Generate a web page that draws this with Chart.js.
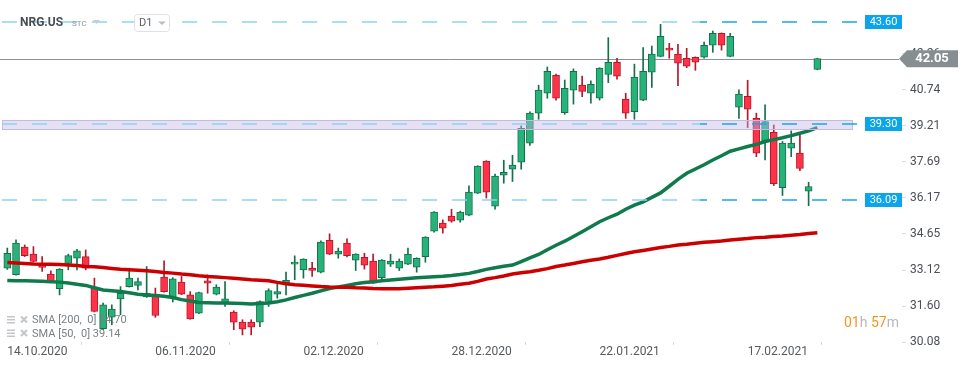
<!DOCTYPE html>
<html>
<head>
<meta charset="utf-8">
<script src="https://cdn.jsdelivr.net/npm/chart.js@4.4.1/dist/chart.umd.min.js"></script>
<style>
    html, body { margin: 0; padding: 0; background: #fff; }
</style>
</head>
<body>
<canvas id="stock-chart" width="970" height="367"></canvas>
<script>
// trading days shown on the chart
const dates = [
    '14.10.2020','15.10.2020','16.10.2020','19.10.2020','20.10.2020','21.10.2020','22.10.2020','23.10.2020','26.10.2020','27.10.2020','28.10.2020','29.10.2020','30.10.2020',
    '02.11.2020','03.11.2020','04.11.2020','05.11.2020','06.11.2020','09.11.2020','10.11.2020','11.11.2020','12.11.2020','13.11.2020','16.11.2020','17.11.2020','18.11.2020','19.11.2020','20.11.2020','23.11.2020','24.11.2020','25.11.2020','27.11.2020','30.11.2020',
    '01.12.2020','02.12.2020','03.12.2020','04.12.2020','07.12.2020','08.12.2020','09.12.2020','10.12.2020','11.12.2020','14.12.2020','15.12.2020','16.12.2020','17.12.2020','18.12.2020','21.12.2020','22.12.2020','23.12.2020','24.12.2020','28.12.2020','29.12.2020','30.12.2020','31.12.2020',
    '04.01.2021','05.01.2021','06.01.2021','07.01.2021','08.01.2021','11.01.2021','12.01.2021','13.01.2021','14.01.2021','15.01.2021','19.01.2021','20.01.2021','21.01.2021','22.01.2021','25.01.2021','26.01.2021','27.01.2021','28.01.2021','29.01.2021',
    '01.02.2021','02.02.2021','03.02.2021','04.02.2021','05.02.2021','08.02.2021','09.02.2021','10.02.2021','11.02.2021','12.02.2021','16.02.2021','17.02.2021','18.02.2021','19.02.2021','22.02.2021','23.02.2021','24.02.2021','25.02.2021','26.02.2021',
    '01.03.2021'
];

// daily candles
const opens = [
    33.20, 32.92, 34.09, 33.79, 33.34, 32.95, 32.33, 33.40, 33.62, 33.69,
    32.40, 30.64, 31.13, 31.90, 32.42, 32.47, 31.98, 32.07, 32.82, 31.96,
    32.61, 32.07, 31.30, 32.66, 32.10, 31.72, 31.34, 30.92, 30.92, 30.92,
    31.79, 32.10, 32.57, 33.37, 33.13, 33.20, 33.03, 34.38, 33.79, 34.26,
    33.54, 33.66, 33.50, 32.80, 33.37, 33.20, 33.37, 33.24, 33.69, 34.76,
    35.10, 35.40, 35.23, 35.44, 36.37, 37.72, 35.82, 37.13, 37.38, 37.68,
    38.48, 39.75, 40.59, 41.35, 39.77, 40.72, 40.93, 40.59, 40.38, 41.39,
    41.90, 40.34, 39.81, 40.30, 41.48, 42.15, 42.49, 42.24, 42.07, 42.11,
    42.11, 42.62, 43.12, 42.15, 40.00, 40.46, 39.53, 38.58, 38.94, 36.60,
    38.27, 38.06, 36.45, 41.60
];
const highs = [
    34.05, 34.40, 34.18, 34.11, 33.69, 33.09, 33.18, 33.79, 34.00, 33.97,
    32.78, 31.72, 31.65, 32.42, 33.20, 32.78, 33.27, 32.36, 33.51, 32.80,
    32.85, 32.21, 32.19, 32.92, 32.50, 32.63, 31.40, 31.02, 31.02, 31.82,
    32.33, 32.57, 33.03, 33.72, 33.60, 33.45, 34.35, 34.65, 34.05, 34.44,
    33.81, 33.83, 33.79, 33.56, 33.79, 33.59, 34.05, 33.64, 34.53, 35.59,
    35.24, 35.69, 35.61, 36.68, 37.53, 37.74, 37.17, 37.76, 37.97, 39.21,
    39.81, 40.93, 41.70, 41.40, 41.15, 41.62, 41.32, 41.11, 41.67, 42.94,
    42.07, 40.59, 41.82, 42.52, 42.58, 43.50, 42.70, 42.66, 42.49, 42.13,
    42.75, 43.22, 43.14, 43.12, 40.73, 41.14, 39.75, 40.10, 39.25, 38.55,
    39.00, 38.83, 36.83, 42.07
];
const lows = [
    33.15, 32.90, 33.69, 33.46, 33.06, 32.61, 32.07, 33.13, 33.13, 33.13,
    31.35, 30.60, 30.81, 31.23, 32.40, 32.28, 31.96, 31.12, 32.19, 31.77,
    32.08, 31.04, 31.28, 32.14, 32.07, 31.58, 30.60, 30.38, 30.38, 30.73,
    31.58, 31.93, 32.07, 32.71, 32.78, 32.85, 33.00, 33.77, 33.62, 33.67,
    33.10, 33.16, 32.55, 32.71, 33.27, 33.10, 33.35, 33.03, 33.45, 34.72,
    34.68, 35.14, 35.14, 35.42, 36.35, 36.16, 35.69, 36.79, 36.86, 37.38,
    38.39, 39.49, 40.38, 40.30, 39.70, 40.13, 40.45, 40.17, 40.30, 41.04,
    41.18, 39.53, 39.49, 40.28, 40.84, 42.13, 42.07, 40.91, 41.67, 41.56,
    42.07, 42.32, 42.41, 42.13, 39.53, 39.14, 37.91, 37.77, 36.69, 36.27,
    37.91, 37.32, 35.84, 41.58
];
const closes = [
    33.83, 34.26, 33.73, 33.48, 33.23, 32.63, 33.16, 33.73, 33.93, 33.20,
    31.37, 31.65, 31.47, 32.14, 32.78, 32.63, 32.14, 31.20, 32.21, 32.75,
    32.10, 31.06, 32.17, 32.57, 32.40, 31.90, 30.92, 30.62, 30.71, 31.79,
    32.25, 32.21, 32.69, 33.45, 33.58, 33.10, 34.30, 33.79, 33.92, 33.73,
    33.79, 33.33, 32.57, 33.54, 33.50, 33.50, 33.79, 33.62, 34.51, 35.57,
    34.89, 35.19, 35.57, 36.41, 37.51, 36.41, 37.09, 37.25, 37.55, 39.11,
    39.75, 40.72, 41.52, 40.38, 40.80, 41.52, 40.67, 40.97, 41.65, 41.90,
    41.31, 39.75, 41.27, 41.52, 42.24, 43.00, 42.41, 41.86, 41.73, 41.90,
    42.62, 43.12, 42.62, 43.00, 40.55, 39.92, 38.06, 39.39, 36.77, 38.48,
    38.48, 37.41, 36.65, 42.05
];

// moving averages
const sma200 = [
    33.44, 33.42, 33.40, 33.38, 33.37, 33.36, 33.35, 33.33, 33.31, 33.27,
    33.26, 33.23, 33.19, 33.15, 33.13, 33.11, 33.09, 33.06, 33.02, 32.99,
    32.95, 32.92, 32.88, 32.85, 32.83, 32.80, 32.77, 32.74, 32.71, 32.69,
    32.67, 32.60, 32.54, 32.50, 32.48, 32.45, 32.42, 32.40, 32.39, 32.39,
    32.37, 32.36, 32.34, 32.33, 32.33, 32.33, 32.35, 32.37, 32.39, 32.41,
    32.44, 32.47, 32.52, 32.56, 32.64, 32.74, 32.80, 32.87, 32.95, 33.01,
    33.05, 33.11, 33.18, 33.27, 33.33, 33.40, 33.47, 33.53, 33.59, 33.66,
    33.74, 33.82, 33.89, 33.95, 34.01, 34.07, 34.12, 34.18, 34.21, 34.25,
    34.29, 34.32, 34.35, 34.39, 34.42, 34.45, 34.49, 34.51, 34.54, 34.56,
    34.59, 34.62, 34.66, 34.70
];
const sma50 = [
    32.68, 32.67, 32.67, 32.66, 32.65, 32.63, 32.61, 32.57, 32.52, 32.47,
    32.37, 32.28, 32.25, 32.21, 32.16, 32.10, 32.07, 32.04, 32.01, 31.96,
    31.87, 31.81, 31.75, 31.74, 31.73, 31.73, 31.72, 31.71, 31.69, 31.71,
    31.73, 31.78, 31.86, 31.96, 32.05, 32.14, 32.24, 32.34, 32.40, 32.47,
    32.54, 32.59, 32.63, 32.67, 32.70, 32.73, 32.76, 32.79, 32.82, 32.84,
    32.86, 32.89, 32.93, 32.98, 33.06, 33.15, 33.22, 33.28, 33.33, 33.48,
    33.63, 33.78, 33.98, 34.17, 34.34, 34.54, 34.74, 34.95, 35.16, 35.33,
    35.48, 35.69, 35.86, 36.00, 36.19, 36.38, 36.66, 36.95, 37.21, 37.39,
    37.57, 37.77, 37.95, 38.14, 38.24, 38.34, 38.43, 38.55, 38.63, 38.71,
    38.80, 38.90, 39.00, 39.14
];

// axis ticks
const x_tick_index = [0, 17, 34, 51, 68, 85];
const y_ticks = [30.08, 31.60, 33.12, 34.65, 36.17, 37.69, 39.21, 40.74, 42.26];

// price levels and zone
const levels = [43.60, 39.30, 36.09];
const zone = [39.07, 39.46];
const last_price = 42.05;

const index = dates.map((d, i) => i);
const up = i => closes[i] >= opens[i];

Chart.defaults.font.family = 'Roboto, "Open Sans", sans-serif';

// plot area is 902px wide, one bar every 8.71px, first bar at 7.3px
const x_min = -7.3 / 8.71;
const x_max = x_min + 902 / 8.71;

// drawing of the levels, price label, header and legend text
const overlays = {
    id: 'overlays',
    beforeDatasetsDraw(chart) {
        const ctx = chart.ctx;
        const y = chart.scales.y;
        // last price line
        const py = Math.round(y.getPixelForValue(last_price)) + 0.5;
        ctx.save();
        ctx.strokeStyle = '#8a9296';
        ctx.lineWidth = 1;
        ctx.beginPath();
        ctx.moveTo(0, py);
        ctx.lineTo(899, py);
        ctx.stroke();
        ctx.restore();
    },
    afterDatasetsDraw(chart) {
        const ctx = chart.ctx;
        const y = chart.scales.y;
        ctx.save();
        // purple zone
        const top = Math.round(y.getPixelForValue(zone[1]));
        const bottom = Math.round(y.getPixelForValue(zone[0]));
        ctx.fillStyle = 'rgba(196, 182, 232, 0.42)';
        ctx.fillRect(2, top, 850, bottom - top);
        ctx.strokeStyle = '#c6b9e4';
        ctx.lineWidth = 1;
        ctx.strokeRect(2.5, top + 0.5, 850, bottom - top);
        // dashed levels, lighter on the left part
        for (let v of levels) {
            const ly = Math.round(y.getPixelForValue(v));
            ctx.lineWidth = 1.5;
            ctx.setLineDash([15, 15]);
            const parts = [[0, 700, '#8fd2f4'], [700, 858, '#1aa6ea']];
            for (let p of parts) {
                ctx.save();
                ctx.beginPath();
                ctx.rect(p[0], ly - 3, p[1] - p[0], 6);
                ctx.clip();
                ctx.strokeStyle = p[2];
                ctx.beginPath();
                ctx.moveTo(2, ly);
                ctx.lineTo(858, ly);
                ctx.stroke();
                ctx.restore();
            }
            ctx.setLineDash([]);
            // level label box
            ctx.fillStyle = '#0aa5ea';
            ctx.fillRect(865, ly - 7, 37, 14);
            ctx.fillStyle = '#ffffff';
            ctx.font = '11px Roboto';
            ctx.textAlign = 'center';
            ctx.textBaseline = 'middle';
            ctx.fillText(v.toFixed(2), 883.5, ly + 0.5);
        }
        ctx.restore();
    },
    afterDraw(chart) {
        const ctx = chart.ctx;
        const y = chart.scales.y;
        ctx.save();
        // last price pointer
        const py = y.getPixelForValue(last_price);
        ctx.fillStyle = '#868e92';
        ctx.beginPath();
        ctx.moveTo(899, py);
        ctx.lineTo(907, py - 8.5);
        ctx.lineTo(958, py - 8.5);
        ctx.lineTo(958, py + 8.5);
        ctx.lineTo(907, py + 8.5);
        ctx.closePath();
        ctx.fill();
        ctx.fillStyle = '#ffffff';
        ctx.font = 'bold 13px Roboto';
        ctx.textAlign = 'center';
        ctx.textBaseline = 'middle';
        ctx.fillText(last_price.toFixed(2), 932, py + 0.5);

        // header
        ctx.textAlign = 'left';
        ctx.fillStyle = '#474d52';
        ctx.font = 'bold 12px Roboto';
        ctx.fillText('NRG.US', 20, 23);
        ctx.fillStyle = '#8d99a3';
        ctx.font = '8px Roboto';
        ctx.fillText('STC', 72, 24);
        ctx.fillStyle = '#c8ccd0';
        ctx.beginPath();
        ctx.moveTo(93, 20); ctx.lineTo(100, 20); ctx.lineTo(96.5, 24); ctx.closePath();
        ctx.fill();
        ctx.strokeStyle = '#dfe2e5';
        ctx.lineWidth = 1;
        ctx.beginPath();
        ctx.roundRect(134.5, 14.5, 35, 17, 3);
        ctx.fillStyle = '#ffffff';
        ctx.fill();
        ctx.stroke();
        ctx.fillStyle = '#5a6066';
        ctx.font = '11px Roboto';
        ctx.fillText('D1', 139, 23.5);
        ctx.fillStyle = '#b9bec2';
        ctx.beginPath();
        ctx.moveTo(158, 21.5); ctx.lineTo(166, 21.5); ctx.lineTo(162, 25); ctx.closePath();
        ctx.fill();

        // indicator legend
        const rows = [['SMA [200,  0] ', sma200], ['SMA [50,  0] ', sma50]];
        rows.forEach((r, k) => {
            const ry = 320.5 + k * 13.5;
            ctx.fillStyle = '#c2c6ca';
            ctx.fillRect(7, ry - 4.5, 8, 1.5);
            ctx.fillRect(7, ry - 1.5, 8, 1.5);
            ctx.fillRect(7, ry + 1.5, 8, 1.5);
            ctx.strokeStyle = '#c2c6ca';
            ctx.lineWidth = 2;
            ctx.beginPath();
            ctx.moveTo(21, ry - 4); ctx.lineTo(27, ry + 2);
            ctx.moveTo(27, ry - 4); ctx.lineTo(21, ry + 2);
            ctx.stroke();
            ctx.fillStyle = '#7b8085';
            ctx.font = '11px Roboto';
            ctx.fillText(r[0] + r[1][r[1].length - 1].toFixed(2), 32, ry);
        });

        // countdown to close
        let cx = 844;
        const parts = [['01', '#f7941d'], ['h ', '#b4b8bb'], ['57', '#f7941d'], ['m', '#b4b8bb']];
        ctx.font = '14px Roboto';
        for (let p of parts) {
            ctx.fillStyle = p[1];
            ctx.fillText(p[0], cx, 323);
            cx += ctx.measureText(p[0]).width;
        }
        ctx.restore();
    }
};

// candle wicks, candle bodies and the two averages
const dataset = {
    datasets: [
        {
            type: 'line',
            label: 'SMA 200',
            data: index.map(i => ({x: i, y: sma200[i]})),
            borderColor: '#cc0000',
            borderWidth: 3.5,
            pointRadius: 0,
            tension: 0,
            order: 1
        },
        {
            type: 'line',
            label: 'SMA 50',
            data: index.map(i => ({x: i, y: sma50[i]})),
            borderColor: '#0f7a4c',
            borderWidth: 3.5,
            pointRadius: 0,
            tension: 0,
            order: 1
        },
        {
            type: 'bar',
            label: 'body',
            data: index.map(i => ({x: i, y: [opens[i], closes[i]]})),
            backgroundColor: index.map(i => up(i) ? '#27b27a' : '#ff3348'),
            borderColor: index.map(i => up(i) ? '#15704a' : '#b3182b'),
            borderWidth: 1,
            borderSkipped: false,
            barThickness: 7,
            minBarLength: 2,
            grouped: false,
            order: 2
        },
        {
            type: 'bar',
            label: 'wick',
            data: index.map(i => ({x: i, y: [lows[i], highs[i]]})),
            backgroundColor: index.map(i => up(i) ? '#15704a' : '#b3182b'),
            barThickness: 1,
            grouped: false,
            order: 3
        }
    ]
};

const config = {
    type: 'bar',
    data: dataset,
    options: {
        responsive: false,
        animation: false,
        layout: { padding: 0 },
        plugins: {
            legend: { display: false },
            tooltip: { enabled: false }
        },
        scales: {
            x: {
                type: 'linear',
                min: x_min,
                max: x_max,
                offset: false,
                border: { display: false },
                grid: {
                    drawOnChartArea: false,
                    tickLength: 3,
                    color: '#d8d8d8'
                },
                ticks: {
                    align: 'start',
                    autoSkip: false,
                    maxRotation: 0,
                    padding: 0,
                    color: '#555a5e',
                    font: { size: 12 },
                    callback: v => dates[v] || ''
                },
                afterBuildTicks: s => { s.ticks = x_tick_index.map(v => ({value: v})); },
                afterFit: s => { s.height = 25; s.paddingLeft = 0; s.paddingRight = 0; }
            },
            y: {
                position: 'right',
                min: 30.08,
                max: 44.53,
                border: { display: false },
                grid: {
                    drawOnChartArea: false,
                    tickLength: 4,
                    color: '#dcdcdc'
                },
                ticks: {
                    padding: 4,
                    color: '#4a4f55',
                    font: { size: 12 },
                    callback: v => v.toFixed(2)
                },
                afterBuildTicks: s => { s.ticks = y_ticks.map(v => ({value: v})); },
                afterFit: s => { s.width = 68; s.paddingTop = 0; s.paddingBottom = 0; }
            }
        }
    },
    plugins: [overlays]
};

const myChart = new Chart(document.getElementById('stock-chart'), config);
</script>
</body>
</html>
